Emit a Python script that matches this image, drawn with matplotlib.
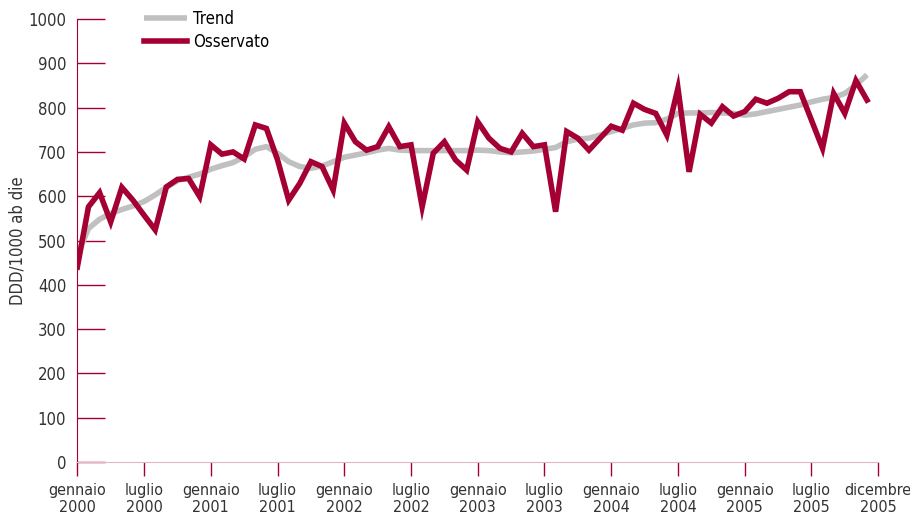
import matplotlib
matplotlib.use('Agg')
from matplotlib import pyplot as plt

# monthly values, gennaio 2000 - dicembre 2005
osservato = [440, 576, 608, 542, 620, 591, 557, 524, 621, 638, 640, 599,
             716, 695, 700, 684, 761, 753, 682, 591, 629, 678, 667, 614,
             765, 723, 704, 712, 757, 712, 716, 576, 697, 723, 682, 659,
             768, 731, 708, 700, 742, 712, 716, 565, 746, 731, 704, 731,
             758, 749, 810, 796, 787, 738, 844, 655, 785, 765, 802, 781,
             791, 819, 810, 821, 836, 836, 772, 708, 832, 787, 861, 817]
trend = [467, 527, 548, 561, 570, 578, 588, 603, 620, 635, 643, 650,
         661, 669, 676, 689, 706, 712, 697, 678, 667, 663, 668, 678,
         688, 693, 698, 704, 708, 704, 703, 703, 703, 703, 703, 703,
         704, 703, 700, 698, 700, 702, 706, 710, 723, 729, 731, 738,
         746, 753, 761, 765, 766, 774, 787, 788, 788, 789, 788, 787,
         783, 786, 791, 796, 801, 806, 813, 819, 823, 832, 851, 874]
tick_pos = [0, 6, 12, 18, 24, 30, 36, 42, 48, 54, 60, 66, 72]
tick_labels = ['gennaio\n2000', 'luglio\n2000', 'gennaio\n2001', 'luglio\n2001',
               'gennaio\n2002', 'luglio\n2002', 'gennaio\n2003', 'luglio\n2003',
               'gennaio\n2004', 'luglio\n2004', 'gennaio\n2005', 'luglio\n2005',
               'dicembre\n2005']

red = '#a50034'
grey = '#c0c0c2'
txt = '#333333'

plt.rcParams['font.family'] = ['DejaVu Sans']
plt.rcParams['font.stretch'] = 'condensed'

fig = plt.figure(figsize=(9.1, 5.15), dpi=100)
ax = fig.add_axes([0.085, 0.103, 0.88, 0.86])

months = list(range(len(osservato)))
ax.plot(months, trend, color=grey, linewidth=4, label='Trend', solid_capstyle='butt')
ax.plot(months, osservato, color=red, linewidth=4, label='Osservato', solid_joinstyle='miter')

ax.set_xlim(0, 72)
ax.set_ylim(0, 1000)
ax.set_yticks(range(0, 1001, 100))
ax.set_xticks(tick_pos)
ax.set_xticklabels(tick_labels, fontsize=11.5, color=txt, linespacing=1.2)
ax.tick_params(axis='y', direction='in', length=20, width=1, color=red,
               labelsize=12, labelcolor=txt, pad=8)
ax.tick_params(axis='x', direction='out', length=10, width=1, color=red, pad=5)
ax.set_ylabel('DDD/1000 ab die', fontsize=12, color=txt, labelpad=1)

for side in ['top', 'right']:
    ax.spines[side].set_visible(False)
ax.spines['left'].set_color(red)
ax.spines['bottom'].set_color('#e0b8c4')

ax.legend(loc='upper left', bbox_to_anchor=(0.075, 1.035), frameon=False,
          fontsize=12, handlelength=2.6, handletextpad=0.35,
          labelspacing=0.3, borderaxespad=0)

plt.savefig('out.png', dpi=100)
